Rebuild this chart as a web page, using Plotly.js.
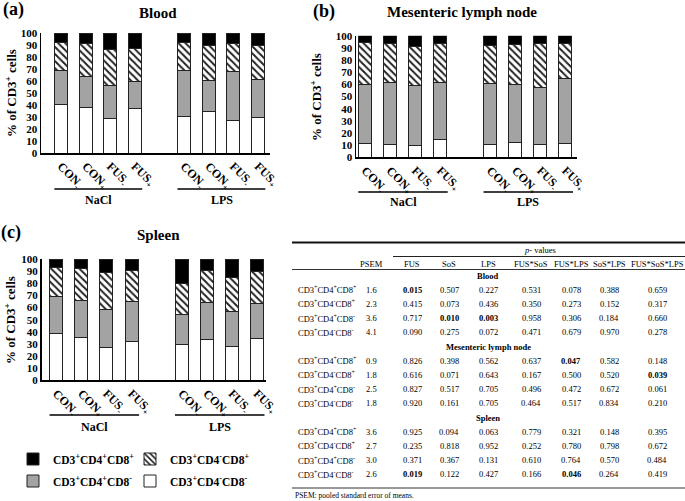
<!DOCTYPE html>
<html><head><meta charset="utf-8">
<script src="https://cdn.plot.ly/plotly-3.0.1.min.js"></script>
<style>html,body{margin:0;padding:0;background:#fff}</style>
</head><body><div id="chart" style="width:685px;height:501px"></div>
<script>
// ---------- data ----------
const groups = ['NaCl', 'LPS'];
const treatments = ['CON<sub>-</sub>', 'CON<sub>+</sub>', 'FUS<sub>-</sub>', 'FUS<sub>+</sub>'];
const seriesNames = [
  'CD3<sup>+</sup>CD4<sup>-</sup>CD8<sup>-</sup>',
  'CD3<sup>+</sup>CD4<sup>+</sup>CD8<sup>-</sup>',
  'CD3<sup>+</sup>CD4<sup>-</sup>CD8<sup>+</sup>',
  'CD3<sup>+</sup>CD4<sup>+</sup>CD8<sup>+</sup>'
];
// Blood (order: NaCl CON-, CON+, FUS-, FUS+, LPS CON-, CON+, FUS-, FUS+)
const bloodDN  = [40.3, 38.3, 28.9, 37.2, 30.3, 34.4, 27.0, 29.7];
const bloodCD4 = [28.6, 25.6, 27.2, 22.8, 38.3, 26.4, 40.8, 31.7];
const bloodCD8 = [23.3, 27.2, 30.0, 27.5, 23.3, 29.2, 23.2, 28.6];
const bloodDP  = [7.8, 8.9, 13.9, 12.5, 8.1, 10.0, 9.0, 10.0];
// Mesenteric lymph node
const mlnDN  = [11.5, 10.8, 9.9, 14.8, 10.2, 12.1, 10.2, 11.0];
const mlnCD4 = [48.0, 50.6, 49.0, 47.1, 50.4, 47.7, 47.1, 53.7];
const mlnCD8 = [34.7, 32.3, 32.6, 31.5, 31.7, 33.0, 36.4, 29.0];
const mlnDP  = [5.8, 6.3, 8.5, 6.6, 7.7, 7.2, 6.3, 6.3];
// Spleen
const spleenDN  = [38.7, 35.7, 26.8, 31.6, 29.9, 34.0, 28.0, 34.3];
const spleenCD4 = [30.3, 30.5, 31.7, 33.5, 24.6, 30.1, 29.0, 29.2];
const spleenCD8 = [23.9, 25.8, 30.2, 25.6, 25.0, 26.4, 27.6, 26.3];
const spleenDP  = [7.1, 8.0, 11.3, 9.3, 20.5, 9.5, 15.4, 10.2];

// table
const tableHeaders = ['PSEM', 'FUS', 'SoS', 'LPS', 'FUS*SoS', 'FUS*LPS', 'SoS*LPS', 'FUS*SoS*LPS'];
const tissueNames = ['Blood', 'Mesenteric lymph node', 'Spleen'];
const rowLabels = [
  'CD3<sup>+</sup>CD4<sup>+</sup>CD8<sup>+</sup>',
  'CD3<sup>+</sup>CD4<sup>-</sup>CD8<sup>+</sup>',
  'CD3<sup>+</sup>CD4<sup>+</sup>CD8<sup>-</sup>',
  'CD3<sup>+</sup>CD4<sup>-</sup>CD8<sup>-</sup>'
];
const psemBlood  = [1.6, 2.3, 3.6, 4.1];
const psemMLN    = [0.9, 1.8, 2.5, 1.8];
const psemSpleen = [3.6, 2.7, 3.0, 2.6];
const pBlood = [
  [0.015, 0.507, 0.227, 0.531, 0.078, 0.388, 0.659],
  [0.415, 0.073, 0.436, 0.350, 0.273, 0.152, 0.317],
  [0.717, 0.010, 0.003, 0.958, 0.306, 0.184, 0.660],
  [0.090, 0.275, 0.072, 0.471, 0.679, 0.970, 0.278]
];
const pMLN = [
  [0.826, 0.398, 0.562, 0.637, 0.047, 0.582, 0.148],
  [0.616, 0.071, 0.643, 0.167, 0.500, 0.520, 0.039],
  [0.827, 0.517, 0.705, 0.496, 0.472, 0.672, 0.061],
  [0.920, 0.161, 0.705, 0.464, 0.517, 0.834, 0.210]
];
const pSpleen = [
  [0.925, 0.094, 0.063, 0.779, 0.321, 0.148, 0.395],
  [0.235, 0.818, 0.952, 0.252, 0.780, 0.798, 0.672],
  [0.371, 0.367, 0.131, 0.610, 0.764, 0.570, 0.484],
  [0.019, 0.122, 0.427, 0.166, 0.046, 0.264, 0.419]
];
const footnote = 'PSEM: pooled standard error of means.';

// ---------- helpers ----------
const W = 685, H = 501;
const px = v => v / W;
const py = v => 1 - v / H;
const FONT = 'Liberation Serif, Times New Roman, serif';

// bar positions: one empty slot between groups
const positions = [];
groups.forEach((g, gi) => treatments.forEach((t, ti) => positions.push(gi * (treatments.length + 1) + ti)));
const tickTexts = [];
groups.forEach(() => treatments.forEach(t => tickTexts.push(t)));

const styles = [
  {color: '#ffffff', pattern: null},
  {color: '#a3a3a3', pattern: null},
  {color: '#ffffff', pattern: {shape: '\\', bgcolor: '#ffffff', fgcolor: '#222222', size: 5, solidity: 0.4}},
  {color: '#000000', pattern: null}
];
const legendIds = ['legend4', 'legend3', 'legend2', 'legend'];

const panels = [
  {x: 'x', y: 'y', data: [bloodDN, bloodCD4, bloodCD8, bloodDP], legend: true},
  {x: 'x2', y: 'y2', data: [mlnDN, mlnCD4, mlnCD8, mlnDP], legend: false},
  {x: 'x3', y: 'y3', data: [spleenDN, spleenCD4, spleenCD8, spleenDP], legend: false}
];

const traces = [];
panels.forEach(p => {
  p.data.forEach((vals, si) => {
    const m = {color: styles[si].color, line: {color: '#222', width: 1}};
    if (styles[si].pattern) m.pattern = styles[si].pattern;
    traces.push({
      type: 'bar', x: positions, y: vals, width: 0.52,
      xaxis: p.x, yaxis: p.y, name: seriesNames[si], marker: m,
      showlegend: p.legend, legend: legendIds[si], hoverinfo: 'skip'
    });
  });
});

function xAxis(d0, d1, r0, r1, anchor) {
  return {
    domain: [px(d0), px(d1)], range: [r0, r1], anchor: anchor,
    tickmode: 'array', tickvals: positions, ticktext: tickTexts, tickangle: 45,
    showline: true, linecolor: '#000', linewidth: 1.5, ticks: '', showgrid: false, zeroline: false,
    tickfont: {family: FONT, size: 12, weight: 'bold', color: '#000'}, fixedrange: true
  };
}
function yAxis(top, bottom, anchor) {
  return {
    domain: [py(bottom), py(top)], range: [0, 100], dtick: 10, anchor: anchor,
    showline: true, linecolor: '#000', linewidth: 1.5, ticks: '', showgrid: false, zeroline: false,
    tickfont: {family: FONT, size: 11, weight: 'bold', color: '#000'}, fixedrange: true
  };
}

const annotations = [];
const shapes = [];
function ann(text, x, y, size, opts) {
  annotations.push(Object.assign({
    text: text, x: px(x), y: py(y), xref: 'paper', yref: 'paper', showarrow: false,
    xanchor: 'center', yanchor: 'middle',
    font: {family: FONT, size: size, color: '#000'}
  }, opts || {}));
}
function hline(x0, x1, y, w, color) {
  shapes.push({type: 'line', xref: 'paper', yref: 'paper', x0: px(x0), x1: px(x1), y0: py(y), y1: py(y),
    line: {color: color || '#000', width: w}});
}

// panel titles and labels
ann('<b>(a)</b>', 13, 9, 18);
ann('<b>Blood</b>', 158, 13, 15);
ann('<b>(b)</b>', 324, 11, 18);
ann('<b>Mesenteric lymph node</b>', 462, 12, 15);
ann('<b>(c)</b>', 11, 232, 18);
ann('<b>Spleen</b>', 158, 235, 15);
ann('<b>% of CD3<sup>+</sup> cells</b>', 11, 93, 13, {textangle: -90});
ann('<b>% of CD3<sup>+</sup> cells</b>', 316, 97, 13, {textangle: -90});
ann('<b>% of CD3<sup>+</sup> cells</b>', 10, 320, 13, {textangle: -90});

// group lines + labels (in data x)
const groupLineY = {x: [189, 200], x2: [192, 202], x3: [415, 427]};
['x', 'x2', 'x3'].forEach(xa => {
  groups.forEach((g, gi) => {
    const first = gi * (treatments.length + 1), last = first + treatments.length - 1;
    shapes.push({type: 'line', xref: xa, yref: 'paper', x0: first - 0.27, x1: last + 0.3,
      y0: py(groupLineY[xa][0]), y1: py(groupLineY[xa][0]), line: {color: '#000', width: 1.5}});
    annotations.push({text: '<b>' + g + '</b>', xref: xa, yref: 'paper', x: (first + last) / 2 + 0.02,
      y: py(groupLineY[xa][1]), showarrow: false, xanchor: 'center', yanchor: 'middle',
      font: {family: FONT, size: 12, color: '#000'}});
  });
});

// table
const colX = [371, 412, 449, 488, 531, 571, 609, 657];
const TF = 8.5;
hline(292, 685, 242.5, 2, '#111');
ann('<i>p</i>- values', 540, 250, TF);
hline(393, 685, 256.5, 1, '#222');
tableHeaders.forEach((h, i) => ann(h, colX[i], 263.5, TF));
hline(292, 685, 269.5, 1.2, '#333');
const sectionY = [275.5, 346.5, 417.5];
const step = 14.2;
const psems = [psemBlood, psemMLN, psemSpleen];
const pvals = [pBlood, pMLN, pSpleen];
tissueNames.forEach((t, ti) => {
  ann('<b>' + t + '</b>', 488, sectionY[ti], TF);
  rowLabels.forEach((r, ri) => {
    const y = sectionY[ti] + step * (ri + 1);
    ann(r, 296, y, TF, {xanchor: 'left'});
    ann(psems[ti][ri].toFixed(1), colX[0], y, TF);
    pvals[ti][ri].forEach((v, ci) => {
      const s = v.toFixed(3);
      ann(v < 0.05 ? '<b>' + s + '</b>' : s, colX[ci + 1], y, TF);
    });
  });
});
hline(292, 685, 488, 1.2, '#333');
ann(footnote, 293, 495.5, 7.5, {xanchor: 'left'});

// legends
function legendAt(cx, cy) {
  return {x: px(cx - 20), y: py(cy), xanchor: 'left', yanchor: 'middle', orientation: 'h',
    bgcolor: 'rgba(0,0,0,0)', borderwidth: 0, itemwidth: 30,
    font: {family: FONT, size: 11.5, weight: 'bold', color: '#000'}};
}

const layout = {
  width: W, height: H, margin: {l: 0, r: 0, t: 0, b: 0},
  paper_bgcolor: '#fff', plot_bgcolor: 'rgba(0,0,0,0)',
  barmode: 'stack', showlegend: true,
  font: {family: FONT, color: '#000'},
  xaxis: xAxis(41, 270, -0.813, 8.49, 'y'),
  yaxis: yAxis(33, 153, 'x'),
  xaxis2: xAxis(356, 577, -0.36, 8.46, 'y2'),
  yaxis2: yAxis(35.7, 157.3, 'x2'),
  xaxis3: xAxis(41.5, 266, -0.59, 8.36, 'y3'),
  yaxis3: yAxis(259, 380.3, 'x3'),
  legend: legendAt(33, 459),
  legend2: legendAt(150, 459),
  legend3: legendAt(33, 481),
  legend4: legendAt(150, 481),
  annotations: annotations,
  shapes: shapes
};

Plotly.newPlot('chart', traces, layout, {staticPlot: true, displayModeBar: false});
</script>
</body></html>
